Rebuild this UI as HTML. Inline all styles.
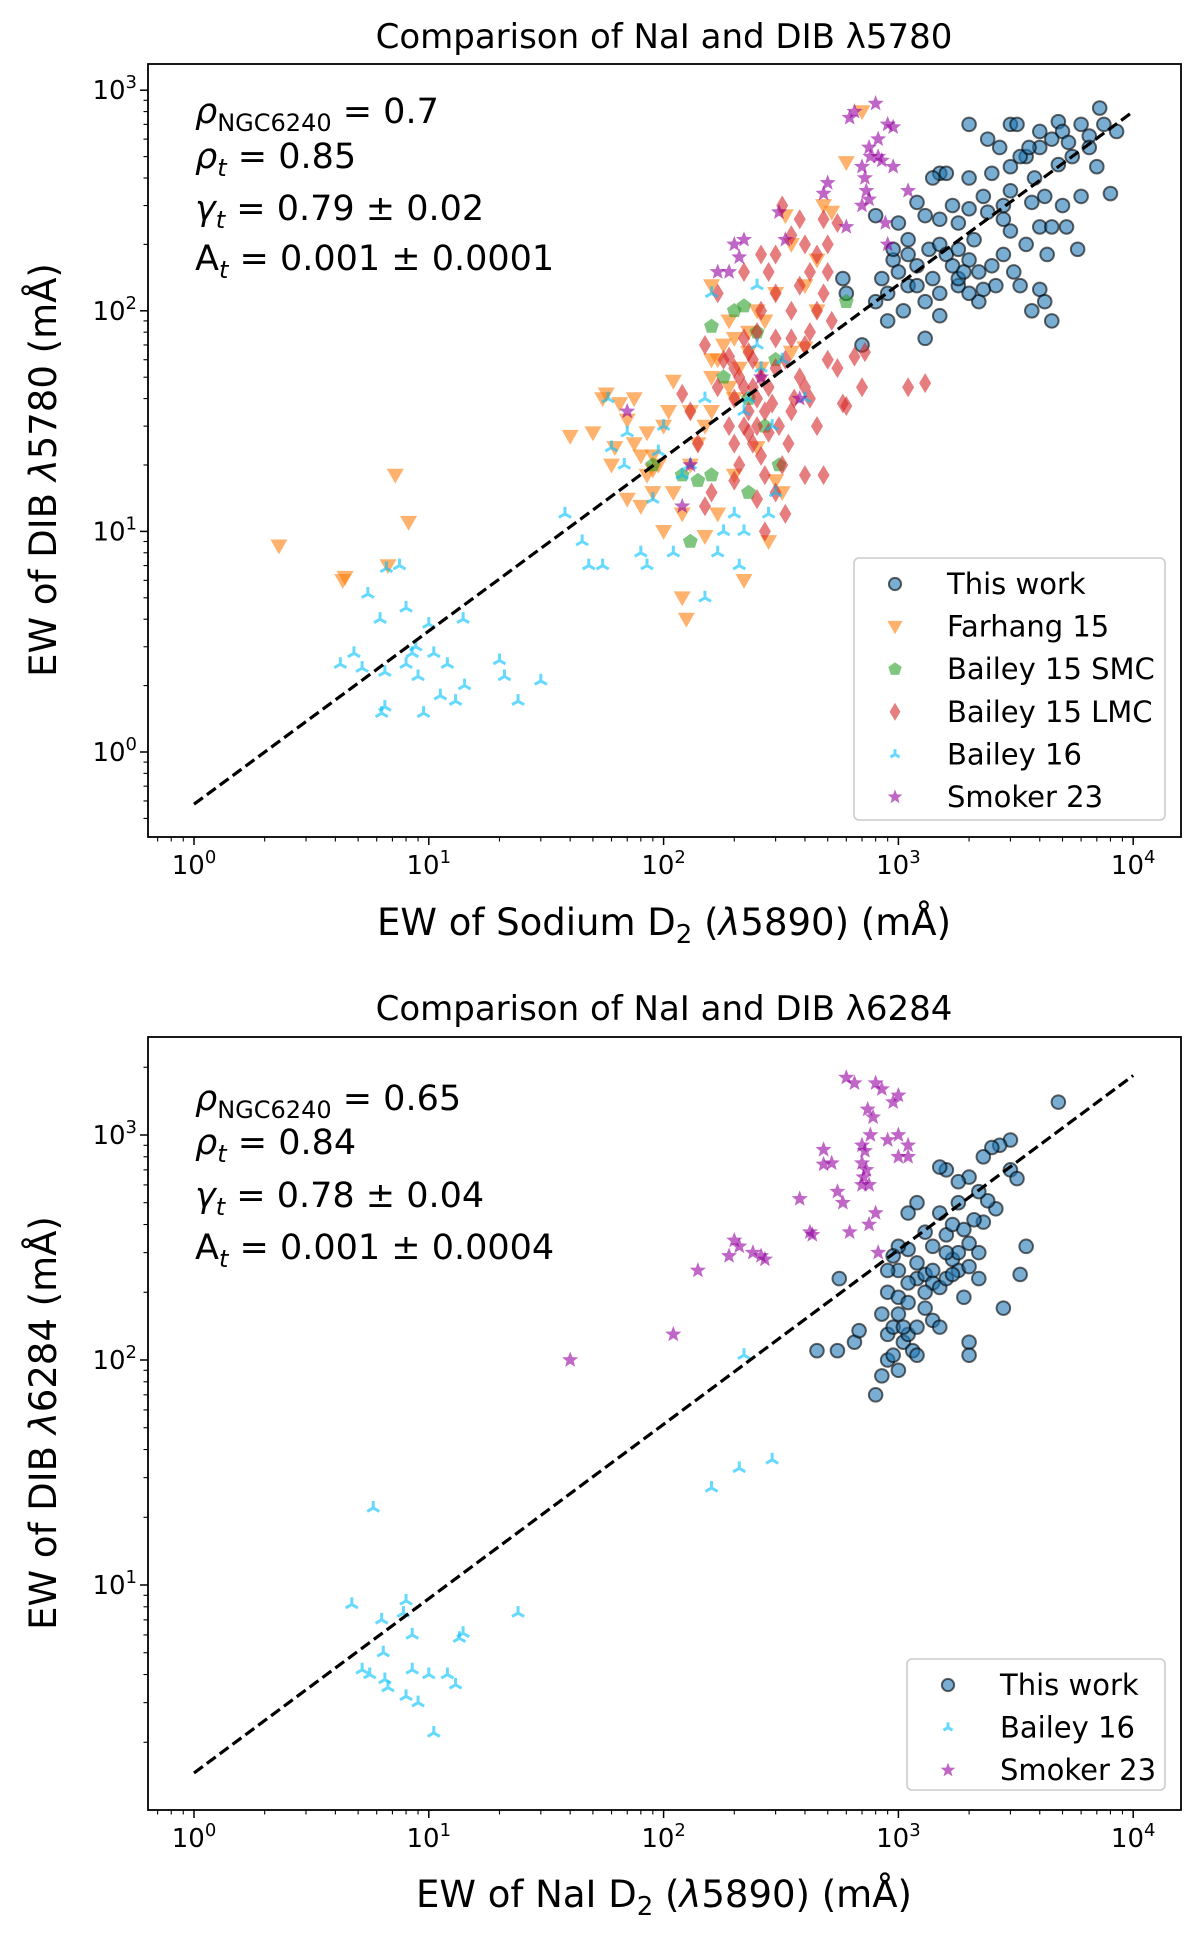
<!DOCTYPE html>
<html><head><meta charset="utf-8"><style>
html,body{margin:0;padding:0;background:#fff;}
svg{display:block;font-family:"DejaVu Sans","Liberation Sans",sans-serif;}
</style></head><body>
<svg id="fig" width="1200" height="1937" viewBox="0 0 1200 1937" xmlns="http://www.w3.org/2000/svg"></svg>
<script>
// ---------- DATA: top panel (DIB 5780 vs Na D2) ----------
const topThisWork = [[2000,700],[3000,700],[3200,700],[4800,720],[5000,650],[4500,600],[6000,700],[7200,830],[6500,620],[5500,500],[4000,550],[3500,500],[3000,450],[2500,420],[2000,400],[1500,420],[1400,400],[1600,420],[2800,300],[2300,330],[2000,290],[1800,250],[1500,260],[1300,270],[1200,310],[1000,250],[1100,180],[1200,160],[1350,190],[1500,200],[1600,180],[1800,190],[2000,170],[2200,150],[2500,160],[2800,180],[3000,230],[3500,200],[4000,240],[4500,240],[5000,300],[3000,350],[3700,310],[4200,330],[2600,130],[2200,110],[1800,130],[1500,120],[1300,110],[1100,130],[900,120],[850,140],[950,170],[1000,150],[1050,100],[900,90],[800,110],[700,70],[1300,75],[1500,95],[1800,140],[2000,120],[2300,125],[3300,130],[4000,125],[4200,110],[4500,90],[3700,100],[6000,330],[7000,450],[8000,340],[5200,240],[5800,190],[4300,180],[3100,150],[2800,260],[1700,160],[1400,140],[1200,130],[1100,210],[950,190],[600,120],[580,140],[2400,280],[3800,400],[4800,460],[5300,580],[6500,550],[7500,700],[8500,650],[800,270],[1700,300],[2700,550],[3300,500],[1900,150],[2100,210],[2400,600],[4000,650],[3600,550]];
const topFarhang = [[2.3,8.6],[4.3,6],[4.4,6.2],[6.7,7],[7.2,18],[8.2,11],[120,5],[125,4],[220,6],[40,27],[50,28],[55,40],[57,42],[65,38],[70,32],[75,25],[80,22],[85,18],[90,15],[95,20],[100,10],[110,15],[120,12],[130,20],[140,25],[150,30],[160,50],[170,60],[180,70],[190,45],[200,40],[210,55],[230,80],[250,100],[270,90],[300,120],[330,270],[350,200],[400,130],[450,170],[480,300],[520,280],[600,470],[700,800],[160,130],[190,90],[230,65],[260,55],[300,17],[320,15],[280,9],[150,9.5],[170,12],[60,20],[70,14],[80,13],[90,19],[100,30],[110,48],[130,35],[200,18],[250,24],[350,65],[400,68],[450,100],[160,60],[200,75],[90,22],[85,28],[75,40],[105,35],[62,24],[160,35]];
const topSMC = [[90,20],[120,18],[130,9],[140,17],[160,85],[200,100],[220,105],[230,15],[250,80],[300,60],[310,20],[180,50],[230,40],[600,110],[270,30],[160,18]];
const topLMC = [[120,42],[150,70],[170,120],[180,60],[190,30],[200,25],[200,40],[210,50],[220,30],[220,45],[230,35],[240,60],[240,25],[250,40],[250,30],[260,50],[260,22],[270,35],[280,45],[280,28],[290,38],[300,55],[300,15],[310,30],[320,20],[330,60],[340,25],[350,35],[360,40],[380,50],[400,70],[400,18],[420,80],[450,100],[450,30],[480,120],[500,150],[520,90],[550,55],[580,38],[600,37],[320,300],[300,180],[280,150],[350,220],[400,200],[450,180],[500,200],[550,250],[480,260],[420,150],[380,130],[350,100],[300,120],[260,100],[230,65],[220,75],[210,20],[200,17],[160,15],[150,13],[250,14],[270,18],[330,12],[270,10],[480,18],[700,45],[1100,45],[1300,47],[720,65],[650,62],[400,45],[300,75],[250,80],[190,62],[170,45],[140,25],[130,35],[260,180],[220,150],[380,260],[200,55],[240,45],[230,28],[350,75],[500,60],[420,40]];
const topBailey16 = [[4.2,2.5],[4.8,2.8],[5.2,2.4],[5.5,5.2],[6.2,4],[6.3,1.5],[6.5,2.3],[6.6,6.8],[7.5,7],[8,4.5],[8,2.5],[8.5,2.8],[8.8,3],[9,2.2],[9.5,1.5],[10,3.8],[10.5,2.8],[11.2,1.8],[12,2.5],[13,1.7],[14,4],[14.2,2],[20,2.6],[21,2.2],[24,1.7],[30,2.1],[6.5,1.6],[38,12],[45,9],[48,7],[55,7],[58,40],[60,24],[68,20],[70,28],[80,8],[85,7],[90,14],[95,23],[100,30],[110,8],[120,18],[130,20],[150,40],[160,120],[170,8],[180,10],[200,12],[210,7],[220,35],[230,40],[250,70],[260,55],[290,30],[300,15],[150,5],[250,130],[280,12],[320,60],[400,40],[220,10]];
const topSmoker = [[70,35],[120,13],[130,20],[170,150],[190,150],[200,200],[210,175],[220,210],[260,50],[310,280],[330,210],[380,40],[480,340],[500,380],[600,240],[620,750],[650,800],[700,450],[720,400],[730,350],[750,550],[760,500],[800,870],[820,500],[850,480],[900,700],[950,450],[900,200],[700,300],[750,320],[1100,350],[880,250],[820,600],[950,680]];
const topFit = [0.58, 0.785];   // A, gamma of dashed line
// ---------- DATA: bottom panel (DIB 6284 vs NaI D2) ----------
const botThisWork = [[450,110],[550,110],[650,120],[680,135],[560,230],[800,70],[850,85],[900,100],[950,105],[1000,90],[1050,120],[1100,130],[1150,110],[1200,105],[900,130],[950,140],[1000,160],[1050,140],[1200,140],[1300,170],[1400,150],[1500,140],[850,160],[900,200],[1000,190],[1100,180],[1200,230],[1300,240],[1400,220],[1500,210],[1600,230],[1800,250],[2000,260],[1700,280],[1800,300],[2000,330],[2200,300],[1900,190],[2000,120],[2000,105],[2800,170],[3300,240],[3500,320],[2300,410],[2600,470],[2400,510],[2200,560],[2000,650],[1800,620],[1600,700],[1500,720],[1300,370],[1100,310],[1000,250],[1200,270],[1400,320],[1600,360],[1700,400],[1900,380],[1500,450],[1200,500],[1100,450],[1000,320],[3000,700],[3200,640],[3000,950],[2700,900],[2500,880],[2300,800],[4800,1400],[2100,420],[1700,240],[1400,250],[1300,200],[1100,220],[950,290],[900,250],[1600,300],[2200,230],[1800,500]];
const botBailey16 = [[4.7,8.2],[5.2,4.2],[5.6,4],[5.8,22],[6.3,7],[6.4,5],[6.5,3.8],[6.7,3.5],[7.8,7.5],[8,8.5],[8,3.2],[8.5,4.2],[8.5,6],[9,3],[10,4],[10.5,2.2],[12,4],[13,3.6],[13.5,5.8],[14,6.1],[24,7.5],[160,27],[210,33],[290,36],[220,105]];
const botSmoker = [[40,100],[110,130],[140,250],[190,290],[200,340],[210,320],[240,300],[260,290],[270,280],[380,520],[420,370],[430,360],[480,860],[480,740],[520,750],[550,560],[580,500],[600,1800],[620,370],[650,1700],[700,900],[700,750],[710,650],[720,850],[730,700],[740,1300],[750,600],[760,1000],[780,1200],[800,1700],[820,300],[850,1600],[900,950],[950,1400],[1000,1000],[1000,800],[1100,900],[1100,800],[1000,1500],[750,400],[800,450],[700,600]];
const botFit = [1.46, 0.775];
const xTickLabels = ["0","1","2","3","4"];
const topYTickLabels = ["0","1","2","3"];
const botYTickLabels = ["1","2","3"];

const NS="http://www.w3.org/2000/svg";
const fig=document.getElementById('fig');
function mk(tag,attrs,parent){const e=document.createElementNS(NS,tag);for(const k in attrs)e.setAttribute(k,attrs[k]);(parent||fig).appendChild(e);return e;}

const C={blue:"rgba(31,119,180,0.6)",orange:"rgba(255,127,14,0.6)",green:"rgba(44,160,44,0.6)",red:"rgba(214,39,40,0.6)",cyan:"rgba(0,191,255,0.6)",purple:"rgba(148,0,160,0.6)"};

function marker(g,type,x,y,s){
  let e;
  if(type==='circle'){e=mk('circle',{cx:x,cy:y,r:6.8*s,fill:C.blue,stroke:"rgba(0,0,0,0.6)","stroke-width":2},g);}
  else if(type==='tri'){const r=8.5*s;e=mk('polygon',{points:`${x-r},${y-r*0.75} ${x+r},${y-r*0.75} ${x},${y+r*1.0}`,fill:C.orange},g);}
  else if(type==='pent'){const r=7.8*s;let p=[];for(let i=0;i<5;i++){const a=-Math.PI/2+i*2*Math.PI/5;p.push((x+r*Math.cos(a)).toFixed(1)+','+(y+r*Math.sin(a)).toFixed(1));}e=mk('polygon',{points:p.join(' '),fill:C.green},g);}
  else if(type==='diam'){const w=6*s,h=10*s;e=mk('polygon',{points:`${x},${y-h} ${x+w},${y} ${x},${y+h} ${x-w},${y}`,fill:C.red},g);}
  else if(type==='triup'){const r=7*s;e=mk('path',{d:`M${x},${y}L${x},${y-r}M${x},${y}L${x-r*0.87},${y+r*0.5}M${x},${y}L${x+r*0.87},${y+r*0.5}`,stroke:C.cyan,"stroke-width":3,fill:"none"},g);}
  else if(type==='star'){const R=8.5*s,r=3.6*s;let p=[];for(let i=0;i<10;i++){const a=-Math.PI/2+i*Math.PI/5;const rr=i%2?r:R;p.push((x+rr*Math.cos(a)).toFixed(1)+','+(y+rr*Math.sin(a)).toFixed(1));}e=mk('polygon',{points:p.join(' '),fill:C.purple},g);}
  return e;
}

function panel(cfg){
  const L=148,R=1181,T=cfg.T,B=cfg.B;
  const x0=194,xd=234.8;
  const X=v=>x0+Math.log10(v)*xd;
  const Y=v=>cfg.y0-Math.log10(v)*cfg.yd;
  const g=mk('g',{});
  
  
  const t=mk('text',{x:664,y:cfg.titleY,"text-anchor":"middle","font-size":34},g);t.textContent=cfg.title;
  
  const clipId='clip'+cfg.T;
  const cp=mk('clipPath',{id:clipId},g);mk('rect',{x:L,y:T,width:R-L,height:B-T},cp);
  const plot=mk('g',{"clip-path":`url(#${clipId})`},g);
  cfg.series.forEach(s=>{
    const sg=mk('g',{},plot);
    
    
    s.data.forEach(d=>{const m=marker(sg,s.type,X(d[0]),Y(d[1]),1);
      
      });
  });
  const fl=mk('line',{x1:X(1),y1:Y(cfg.fit[0]),x2:X(1e4),y2:Y(cfg.fit[0]*Math.pow(1e4,cfg.fit[1])),stroke:"#000","stroke-width":3.2,"stroke-dasharray":"11,5"},g);
  
  const fr=mk('rect',{x:L,y:T,width:R-L,height:B-T,fill:"none",stroke:"#000","stroke-width":1.8},g);
  
  xTickLabels.forEach(e=>{const v=Math.pow(10,+e);const x=X(v);
    mk('line',{x1:x,y1:B,x2:x,y2:B+8,stroke:"#000","stroke-width":1.5},g);
    const tt=mk('text',{x:x,y:B+37,"text-anchor":"middle","font-size":26},g);
    tt.innerHTML=`10<tspan dy="-11" font-size="18">${e}</tspan>`;
    });
  for(let d=-1;d<=4;d++)for(let k=2;k<10;k++){const v=k*Math.pow(10,d);const x=X(v);if(x<L||x>R)continue;mk('line',{x1:x,y1:B,x2:x,y2:B+4.5,stroke:"#000","stroke-width":1.1},g);}
  cfg.yTicks.forEach(e=>{const y=Y(Math.pow(10,+e));
    mk('line',{x1:L,y1:y,x2:L-8,y2:y,stroke:"#000","stroke-width":1.5},g);
    const tt=mk('text',{x:L-11,y:y+9,"text-anchor":"end","font-size":26},g);
    tt.innerHTML=`10<tspan dy="-11" font-size="18">${e}</tspan>`;
    });
  for(let d=-1;d<=3;d++)for(let k=2;k<10;k++){const y=Y(k*Math.pow(10,d));if(y<T||y>B)continue;mk('line',{x1:L,y1:y,x2:L-4.5,y2:y,stroke:"#000","stroke-width":1.1},g);}
  const xl=mk('text',{x:664,y:cfg.xlabY,"text-anchor":"middle","font-size":37},g);xl.innerHTML=cfg.xlab;
  
  const yl=mk('text',{x:0,y:0,"text-anchor":"middle","font-size":37,transform:`translate(${56},${cfg.ylabC}) rotate(-90)`},g);yl.innerHTML=cfg.ylab;
  
  cfg.ann.forEach((a,i)=>{const at=mk('text',{x:195,y:cfg.annY[i],"font-size":35},g);at.innerHTML=a;
    });
  const lg=mk('g',{},g);
  mk('rect',{x:cfg.leg.x,y:cfg.leg.y,width:1165-cfg.leg.x,height:cfg.leg.h,rx:5,fill:"#fff","fill-opacity":0.8,stroke:"#ccc","stroke-width":1.6},lg);
  cfg.series.forEach((s,i)=>{const yy=cfg.leg.y+26+i*42.6;
    const ent=mk('g',{},lg);
    marker(ent,s.type,cfg.leg.x+41,yy,s.type==='triup'?0.75:0.9);
    const lt=mk('text',{x:cfg.leg.x+93,y:yy+10,"font-size":29},ent);lt.textContent=s.label;});
}

panel({name:'top-panel',T:64,B:837,y0:752,yd:220.6,titleY:48,title:"Comparison of NaI and DIB \u03bb5780",
 fit:topFit,yTicks:topYTickLabels,xlabY:935,ylabC:470,
 xlab:'EW of Sodium D<tspan dy="8" font-size="26">2</tspan><tspan dy="-8"> (</tspan><tspan font-style="italic">\u03bb</tspan>5890) (m\u00c5)',
 ylab:'EW of DIB <tspan font-style="italic">\u03bb</tspan>5780 (m\u00c5)',
 ann:['<tspan font-style="italic">\u03c1</tspan><tspan dy="8" font-size="24">NGC6240</tspan><tspan dy="-8"> = 0.7</tspan>','<tspan font-style="italic">\u03c1</tspan><tspan dy="8" font-size="24" font-style="italic">t</tspan><tspan dy="-8"> = 0.85</tspan>','<tspan font-style="italic">\u03b3</tspan><tspan dy="8" font-size="24" font-style="italic">t</tspan><tspan dy="-8"> = 0.79 \u00b1 0.02</tspan>','A<tspan dy="8" font-size="24" font-style="italic">t</tspan><tspan dy="-8"> = 0.001 \u00b1 0.0001</tspan>'],
 annY:[123,168,220,270],
 leg:{x:854,y:558,h:262},
 series:[{key:'this-work',label:'This work',type:'circle',data:topThisWork},
  {key:'farhang-15',label:'Farhang 15',type:'tri',data:topFarhang},
  {key:'bailey-15-smc',label:'Bailey 15 SMC',type:'pent',data:topSMC},
  {key:'bailey-15-lmc',label:'Bailey 15 LMC',type:'diam',data:topLMC},
  {key:'bailey-16',label:'Bailey 16',type:'triup',data:topBailey16},
  {key:'smoker-23',label:'Smoker 23',type:'star',data:topSmoker}]});

panel({name:'bottom-panel',T:1037,B:1810,y0:1810,yd:225,titleY:1020,title:"Comparison of NaI and DIB \u03bb6284",
 fit:botFit,yTicks:botYTickLabels,xlabY:1907,ylabC:1423,
 xlab:'EW of NaI D<tspan dy="8" font-size="26">2</tspan><tspan dy="-8"> (</tspan><tspan font-style="italic">\u03bb</tspan>5890) (m\u00c5)',
 ylab:'EW of DIB <tspan font-style="italic">\u03bb</tspan>6284 (m\u00c5)',
 ann:['<tspan font-style="italic">\u03c1</tspan><tspan dy="8" font-size="24">NGC6240</tspan><tspan dy="-8"> = 0.65</tspan>','<tspan font-style="italic">\u03c1</tspan><tspan dy="8" font-size="24" font-style="italic">t</tspan><tspan dy="-8"> = 0.84</tspan>','<tspan font-style="italic">\u03b3</tspan><tspan dy="8" font-size="24" font-style="italic">t</tspan><tspan dy="-8"> = 0.78 \u00b1 0.04</tspan>','A<tspan dy="8" font-size="24" font-style="italic">t</tspan><tspan dy="-8"> = 0.001 \u00b1 0.0004</tspan>'],
 annY:[1110,1154,1207,1259],
 leg:{x:907,y:1659,h:131},
 series:[{key:'this-work',label:'This work',type:'circle',data:botThisWork},
  {key:'bailey-16',label:'Bailey 16',type:'triup',data:botBailey16},
  {key:'smoker-23',label:'Smoker 23',type:'star',data:botSmoker}]});
</script>
</body></html>
